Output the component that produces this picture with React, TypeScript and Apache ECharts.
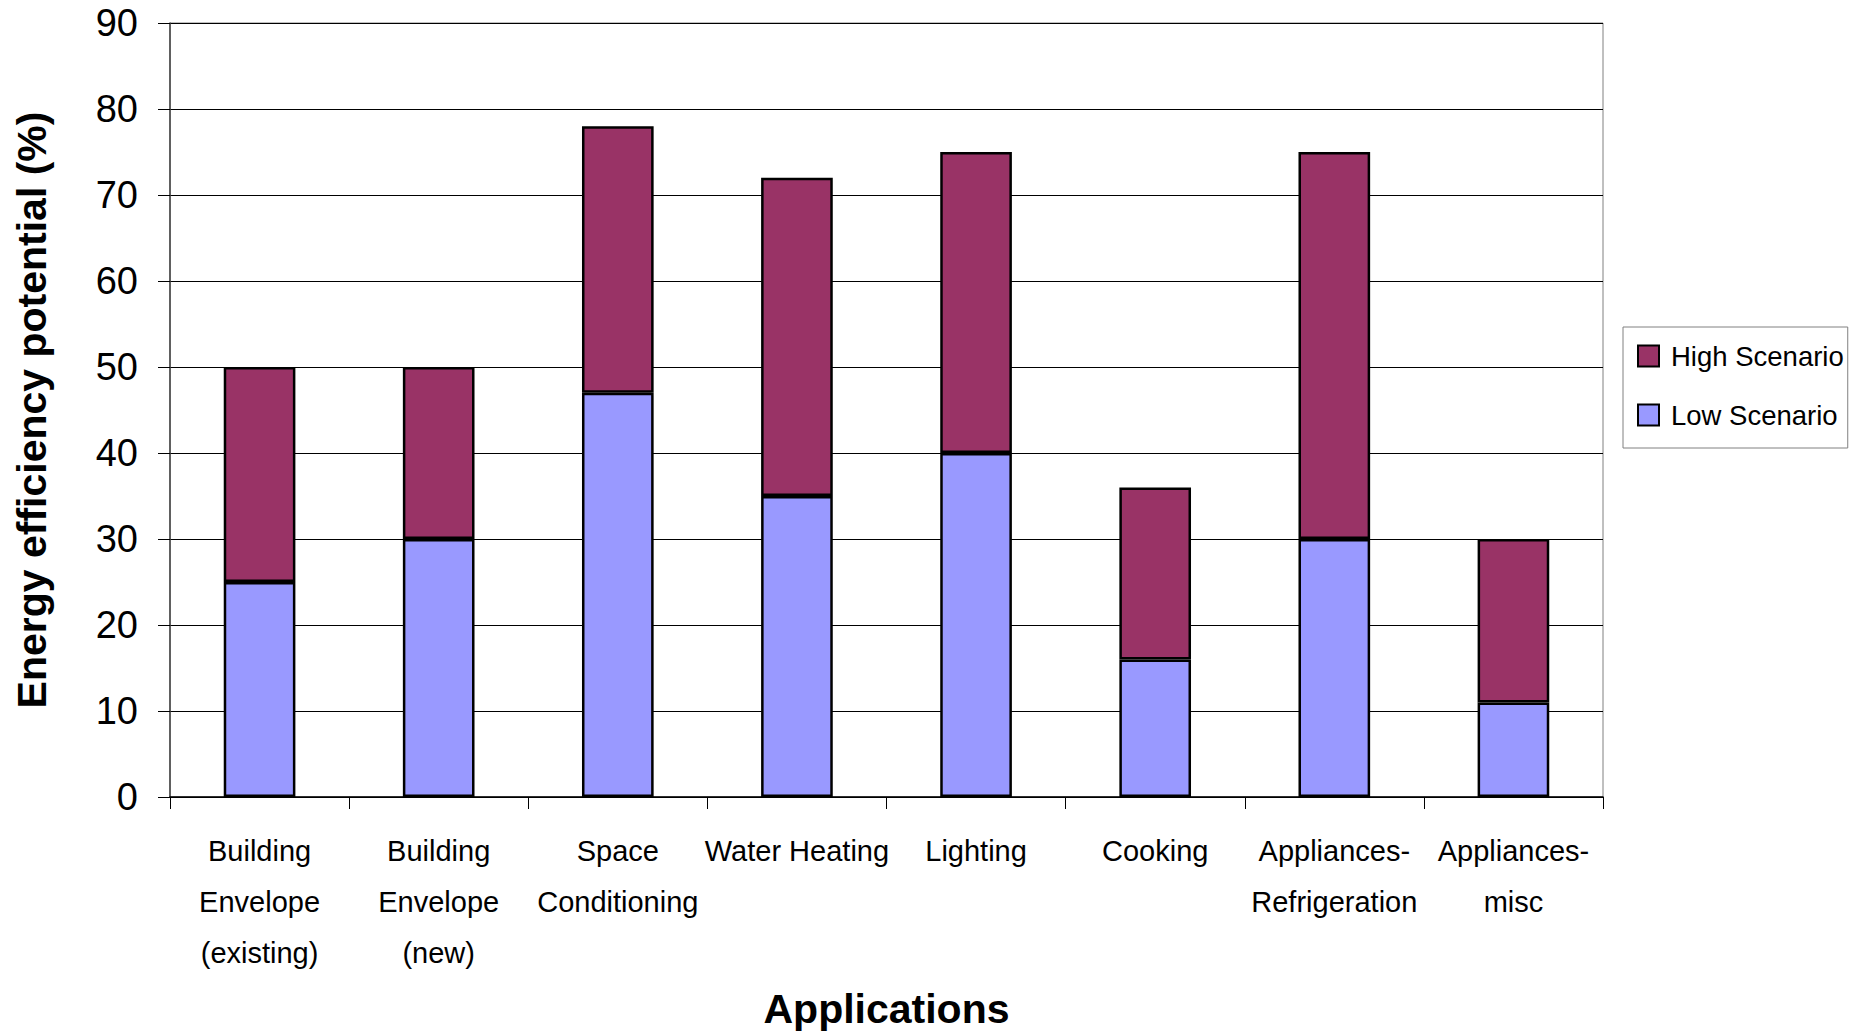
import React, { useEffect, useRef } from "react";
import * as echarts from "echarts";

const categories = [
  "Building\nEnvelope\n(existing)",
  "Building\nEnvelope\n(new)",
  "Space\nConditioning",
  "Water Heating",
  "Lighting",
  "Cooking",
  "Appliances-\nRefrigeration",
  "Appliances-\nmisc",
];
const lowScenario = [25, 30, 47, 35, 40, 16, 30, 11];
const highScenarioExtra = [25, 20, 31, 37, 35, 20, 45, 19];
const yTicks = { min: 0, max: 90, interval: 10 };

const SANS = "'Liberation Sans', Arial, sans-serif";

export default function App() {
  const ref = useRef<HTMLDivElement>(null);
  useEffect(() => {
    document.body.style.margin = "0";
    const chart = echarts.init(ref.current!, null, { renderer: "svg" });
    chart.setOption({
      animation: false,
      backgroundColor: "#fff",
      grid: {
        left: 170,
        right: 255,
        top: 23,
        bottom: 235,
        show: true,
        borderColor: "#808080",
        borderWidth: 1,
        outerBoundsMode: "none",
        containLabel: false,
      },
      legend: {
        data: ["High Scenario", "Low Scenario"],
        orient: "vertical",
        left: 1623,
        top: 327,
        backgroundColor: "#fff",
        borderColor: "#808080",
        borderWidth: 1,
        borderRadius: 0,
        padding: [10, 4, 14, 14],
        itemWidth: 21,
        itemHeight: 21,
        itemGap: 21,
        icon: "rect",
        itemStyle: { borderColor: "#000", borderWidth: 2 },
        textStyle: {
          fontFamily: SANS,
          fontSize: 27.5,
          color: "#000",
          lineHeight: 38,
          padding: [0, 0, 0, 7],
        },
      },
      xAxis: {
        type: "category",
        data: categories,
        name: "Applications",
        nameLocation: "middle",
        nameGap: 191,
        nameTextStyle: {
          fontFamily: SANS,
          fontWeight: "bold",
          fontSize: 41,
          color: "#000",
        },
        axisLine: { lineStyle: { color: "#000", width: 1.5 } },
        axisTick: { show: true, length: 12, lineStyle: { color: "#000" } },
        axisLabel: {
          interval: 0,
          fontFamily: SANS,
          fontSize: 29,
          lineHeight: 51,
          margin: 28,
          color: "#000",
        },
      },
      yAxis: {
        type: "value",
        min: yTicks.min,
        max: yTicks.max,
        interval: yTicks.interval,
        name: "Energy efficiency potential (%)",
        nameLocation: "middle",
        nameRotate: 90,
        nameGap: 118,
        nameTextStyle: {
          fontFamily: SANS,
          fontWeight: "bold",
          fontSize: 41,
          color: "#000",
        },
        axisLine: { show: true, lineStyle: { color: "#404040", width: 1.5 } },
        axisTick: { show: true, length: 12, lineStyle: { color: "#000" } },
        axisLabel: {
          fontFamily: SANS,
          fontSize: 38,
          margin: 32,
          color: "#000",
        },
        splitLine: { show: true, lineStyle: { color: "#000", width: 1 } },
      },
      series: [
        {
          name: "Low Scenario",
          type: "bar",
          stack: "total",
          barWidth: "40%",
          data: lowScenario,
          itemStyle: { color: "#9999FF", borderColor: "#000", borderWidth: 2.5 },
        },
        {
          name: "High Scenario",
          type: "bar",
          stack: "total",
          barWidth: "40%",
          data: highScenarioExtra,
          itemStyle: { color: "#993366", borderColor: "#000", borderWidth: 2.5 },
        },
      ],
    });
    return () => chart.dispose();
  }, []);
  return <div ref={ref} style={{ width: 1858, height: 1032 }} />;
}
